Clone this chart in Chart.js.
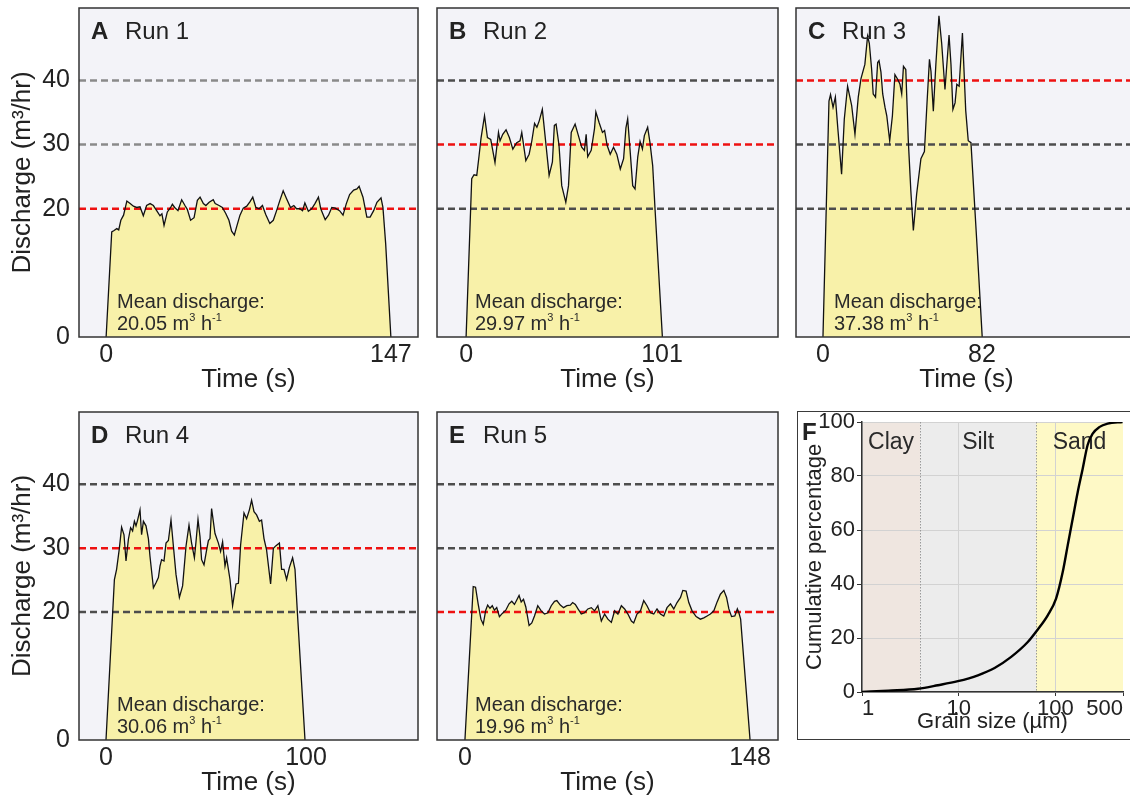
<!DOCTYPE html>
<html>
<head>
<meta charset="utf-8">
<script src="https://cdn.jsdelivr.net/npm/chart.js@4.4.1/dist/chart.umd.min.js"></script>
<style>
html,body{margin:0;padding:0;background:#fff;}
body{width:1130px;height:800px;overflow:hidden;position:relative;}
canvas{position:absolute;}
#boxF{position:absolute;left:797px;top:411px;width:345px;height:329px;border:1.5px solid #3a3a3a;box-sizing:border-box;}
</style>
</head>
<body>
<div id="boxF"></div>
<canvas id="cA" width="425" height="400" style="left:0;top:0"></canvas>
<canvas id="cB" width="355" height="400" style="left:430px;top:0"></canvas>
<canvas id="cC" width="355" height="400" style="left:790px;top:0"></canvas>
<canvas id="cD" width="425" height="400" style="left:0;top:400px"></canvas>
<canvas id="cE" width="355" height="400" style="left:430px;top:400px"></canvas>
<canvas id="cF" width="355" height="400" style="left:790px;top:400px"></canvas>
<script>
/* ===== data ===== */
const levels = [20, 30, 40];          // dashed reference discharges
const yTicks = [0, 20, 30, 40];
const letters = ['A','B','C','D','E'];
const runNames = ['Run 1','Run 2','Run 3','Run 4','Run 5'];
const runLength = [147, 101, 82, 100, 148];
const targetQ = [20, 30, 40, 30, 20];
const meanQ = ['20.05','29.97','37.38','30.06','19.96'];

// [time s, discharge m3/hr]
const run1 = [[0,0],[2.9,16.4],[4.1,16.6],[5.5,16.9],[6.5,16.7],[7.6,18.2],[9,19],[10.7,21.2],[12.4,20.8],[14.1,20.4],[15.8,20.2],[17.5,20.3],[19.2,18.9],[20.9,20.5],[22.7,20.8],[24.4,20.5],[26.1,19.7],[27.8,18.9],[28.8,19.2],[29.9,17.4],[31.6,19.5],[33.3,20.2],[34.2,20.7],[35.4,20.2],[37.1,19.7],[39,21.4],[40.7,20.5],[41.9,19.9],[43.6,18.2],[45.4,18.6],[47.1,21.3],[48.5,21.8],[50.2,20.8],[51.5,20.5],[53.2,21],[55.3,21.4],[56.3,20.8],[58.3,20.5],[60,20.2],[61.7,19.3],[63.4,18.2],[64.8,16.5],[66.2,15.9],[67.4,17.2],[69.1,19],[70.8,20.1],[72.6,20.4],[74.3,21.1],[75.7,21.8],[77.3,20.2],[79,20],[80.7,20.5],[82.4,19.1],[84.5,17.7],[86.3,18.2],[88,19.7],[89.7,21.3],[91.4,22.8],[93.1,21.6],[95.2,20.2],[96.9,20.5],[98.3,20],[100,20],[101.4,19.7],[102.6,20.9],[104.4,19.6],[106.1,20],[107.8,20.8],[109.6,21.8],[110.8,20],[113.1,18.3],[114.8,19],[116.5,20.2],[118.3,20.1],[120.5,19.7],[122.3,19],[124,20.8],[125.7,22.2],[127.8,22.9],[129.5,23.1],[130.6,23.5],[132.6,21.8],[134.6,18.7],[136.3,18.7],[138.1,19.7],[139.8,21],[141.9,21.7],[142.9,20.2],[144.3,14.6],[147,0]];
const run2 = [[0,0],[2.9,24.7],[4.1,25.3],[5.5,25.2],[6.7,28.3],[7.7,31],[9.5,34.5],[11,31.1],[12.7,30.8],[14.9,27.2],[16.7,31.9],[17.5,30.6],[18.9,31.6],[20.6,32.3],[22.3,31.1],[24.1,29.3],[26.1,30.3],[27.8,30.6],[28.7,31.9],[30.8,27.5],[32.5,28.5],[33.9,30.6],[35.3,33.3],[36.5,32.7],[37.7,33.7],[39.3,35.5],[40.7,31.4],[42.1,27.3],[42.8,25.2],[44.5,27.3],[45.5,33],[46.4,33.2],[47.9,29.9],[49.3,23.6],[51.4,21],[52.8,23.6],[54.2,31.9],[56.2,33.2],[57.9,31.4],[59.6,29.6],[61,29.1],[61.9,31.6],[62.7,28.1],[64.5,29.1],[66.2,32.5],[66.9,35.1],[68.6,33.4],[70.3,31.9],[71.4,32.2],[72.7,29.9],[74.3,28.5],[76,29.6],[77.7,28.5],[79.5,26.2],[81.2,27.8],[82.4,32.6],[83.3,34],[84.5,29.3],[85.9,23.6],[87.1,23.1],[88.5,28.1],[89.7,30.5],[90.9,29.3],[91.9,31.4],[93.6,32.7],[94.8,30.3],[96.2,26.7],[97.4,20],[101.2,0]];
const run3 = [[0,0],[3.1,36.8],[3.9,37.8],[5.2,35.8],[6.4,37.4],[7.7,32.4],[9.6,25.4],[11,34],[12.7,39.1],[14.8,36.1],[16.5,31.6],[18.2,37.4],[19.6,40.3],[21.6,42.5],[23,46.9],[23.9,45.8],[25.1,41.7],[25.9,37.9],[27.1,37.4],[28.2,42.8],[28.9,43.1],[29.9,41.3],[30.8,37.9],[32,35.8],[32.9,34.5],[34.4,30.6],[35.8,34.5],[37.1,40.9],[38.5,40.2],[39.7,39.4],[40.6,37.9],[41.5,42.2],[42.7,41.7],[44,30.6],[45.3,22.8],[46.6,16.6],[48.3,22.3],[50.5,27.8],[52.3,28.9],[53.5,35.7],[54.9,43.3],[55.7,41.4],[56.9,35.2],[58.2,42.5],[59.8,50.1],[61.2,45.8],[62.9,38.6],[65,47.1],[66,42.5],[67,35.5],[68.1,36.5],[69,39.4],[70.2,39.1],[71.9,47.4],[73.6,35.3],[74.9,30.6],[76.3,30.3],[79.2,15.4],[82.1,0]];
const run4 = [[0,0],[4.2,25.1],[5.3,26.7],[6.7,30],[7.8,33.3],[9,32.1],[10,28],[11.2,31.4],[12.3,33.2],[13.3,32.7],[14.2,34.2],[15,33.5],[15.8,34.4],[17,36],[17.8,32.1],[18.7,34.2],[20,33.5],[21.2,31.5],[22,28.7],[23.7,23.8],[25,24.6],[26.2,25.4],[27,27.2],[27.8,28.2],[29,28],[30,30.8],[31.2,31.2],[32.5,34.4],[33.7,30.3],[35,25.9],[36.7,22.3],[38.3,24.1],[40,30.3],[41.5,33.6],[42.8,30.8],[44.2,28.5],[45,31],[46,34.5],[47,31.8],[47.8,28.2],[49,27.4],[50.3,29.7],[51.2,31.2],[52,31.5],[52.8,36.2],[54.5,32.3],[56.2,30.8],[57.3,29.5],[58.3,31],[59.5,27.2],[60.3,28.5],[62,25.1],[63.3,21],[65,24.4],[66.2,24.5],[67.3,30.5],[69,35.5],[70.3,34.6],[71.7,36],[72.8,37.5],[74,35.7],[75.3,35.2],[76.7,34.2],[77.8,34.4],[79,31.5],[80.3,29.7],[82.3,24.4],[83.7,30],[85,30.4],[86.7,30.8],[87.8,26.7],[89,26.7],[90.3,25.1],[91.7,27],[93.3,28.5],[94.5,26.7],[95.7,19.9],[99.5,0]];
const run5 = [[0,0],[4.3,24],[5.5,23.9],[6.9,21.2],[8.3,18.9],[9.5,18.1],[10.8,20.3],[11.8,21.1],[13,20.6],[14.2,21],[15.3,20.3],[16.5,20.7],[17.9,19.3],[19.4,19.8],[21.2,20.3],[22.9,21.3],[24.3,21.7],[25.7,21.2],[26.9,21.9],[28.1,22.6],[29.2,21.6],[30.4,22],[31.6,20.8],[33.3,17.9],[34.7,18.3],[36.1,19.4],[37.8,21],[39.6,20.2],[41.3,19.7],[43.1,19.9],[44.8,21],[46.5,21.7],[47.7,21.8],[49.5,21.1],[51.2,20.7],[52.9,21],[54.7,21.1],[55.9,21.5],[57.3,21.2],[58.7,20.5],[60.4,19.7],[62.1,19.9],[63.8,20.5],[65.6,20.7],[67.3,20.2],[69,21],[70.8,18.6],[72.5,19.7],[74.2,18.9],[76,18.4],[77.7,20.2],[79.4,19.7],[81.2,21],[82.9,20.5],[84.6,19.7],[86.4,18.6],[87.6,18.3],[89.3,19.7],[91.1,20.2],[92.8,21.8],[94.5,21],[96.3,19.9],[98,19.7],[99.7,20.5],[101.5,19.7],[103.2,19.4],[104.9,20.7],[106.7,21.3],[108.4,20.5],[110.1,21.5],[111.9,22.3],[113.1,23.4],[114.8,23.3],[116.2,21.5],[117.9,20.2],[120,19.3],[122.2,18.9],[124,19.1],[125.7,19.4],[127.4,19.7],[129.2,20.2],[130.9,21.6],[132.6,22.8],[134.4,23.4],[135.8,22.3],[137,20.5],[138.4,19.3],[140.1,19.4],[141.4,20.5],[142.2,19.9],[143.1,18.9],[148,0]];

// panel F: grain size distribution
const grainCurve = [[1,0],[1.87,0.5],[3.8,1.2],[6.1,2.5],[9.8,4],[15.8,6.2],[23.5,8.9],[34.9,13],[51.8,18.5],[64.6,22.8],[83.3,28.4],[101.6,34.6],[119,44.4],[134,54.3],[151,64.2],[170,74],[191.5,82.7],[215,91.4],[243,95.7],[284,98.1],[347,99.4],[494,100]];
const grainTicks = [1, 10, 100, 500];
const pctTicks = [0, 20, 40, 60, 80, 100];
const classEdges = [1, 4, 63, 500];
const classNames = ['Clay', 'Silt', 'Sand'];
const classColors = ['#efe6e0', '#ececec', '#fef9c6'];

/* ===== style ===== */
const FONT = '"Liberation Sans", Arial, sans-serif';
const RED = '#ee1111', FILL = '#f8f1a9', BG = '#f3f3f8', INK = '#222';

const panels = [
  {id:'cA', data:run1, xr:[-14,161],   yw:79, top:8,  right:7, xh:63, tpad:4.4, grey:'#8a8a8a'},
  {id:'cB', data:run2, xr:[-15,160.8], yw:7,  top:8,  right:7, xh:63, tpad:4.4, grey:'#4d4d4d'},
  {id:'cC', data:run3, xr:[-13.9,161.9], yw:6, top:8, right:8, xh:63, tpad:4.4, grey:'#4d4d4d'},
  {id:'cD', data:run4, xr:[-13.5,156], yw:79, top:12, right:7, xh:60, tpad:1.4, grey:'#4d4d4d'},
  {id:'cE', data:run5, xr:[-14.5,162.5], yw:7, top:12, right:7, xh:60, tpad:1.4, grey:'#4d4d4d'}
];

// fixed axis boxes, no extra label overhang padding
const fixY = w => s => { s.width = w; s.paddingTop = 0; s.paddingBottom = 0; };
const fixX = h => s => { s.height = h; s.paddingLeft = 0; s.paddingRight = 0; };

function richText(ctx, parts, x, y, size){
  parts.forEach(([s, sup])=>{
    ctx.font = (sup ? Math.round(size*0.55) : size) + 'px ' + FONT;
    ctx.fillText(s, x, sup ? y - size*0.45 : y);
    x += ctx.measureText(s).width;
  });
}

const framePlugin = {
  id:'frame',
  beforeDraw(chart){
    const {ctx, chartArea:a} = chart;
    ctx.save(); ctx.fillStyle = BG;
    ctx.fillRect(a.left, a.top, a.right-a.left, a.bottom-a.top);
    ctx.restore();
  },
  afterDraw(chart, args, o){
    const {ctx, chartArea:a} = chart;
    ctx.save();
    ctx.fillStyle = INK; ctx.textAlign = 'left'; ctx.textBaseline = 'alphabetic';
    ctx.font = 'bold 24px ' + FONT; ctx.fillText(o.letter, a.left+12, a.top+31);
    ctx.font = '24px ' + FONT; ctx.fillText(o.name, a.left+46, a.top+31);
    ctx.fillStyle = '#2a2a2a';
    ctx.font = '20px ' + FONT; ctx.fillText('Mean discharge:', a.left+38, a.bottom-29);
    richText(ctx, [[o.mean+' m',0],['3',1],[' h',0],['-1',1]], a.left+38, a.bottom-7, 20);
    ctx.strokeStyle = '#333'; ctx.lineWidth = 1.5;
    ctx.strokeRect(a.left, a.top, a.right-a.left, a.bottom-a.top);
    ctx.restore();
  }
};

panels.forEach((p, i)=>{
  const [xmin, xmax] = p.xr;
  const pts = p.data.map(([x,y])=>({x,y}));
  const showY = p.yw > 20;
  const ds = [{data:pts, borderColor:'#111', borderWidth:1.3, pointRadius:0, fill:false, tension:0}];
  levels.forEach(l=>ds.push({
    data:[{x:xmin,y:l},{x:xmax,y:l}], borderColor: l===targetQ[i] ? RED : p.grey,
    borderDash:[7,4], borderWidth:2.5, pointRadius:0, fill:false
  }));
  ds.push({data:pts, borderWidth:0, borderColor:'rgba(0,0,0,0)', backgroundColor:FILL, fill:'origin', pointRadius:0, tension:0});

  new Chart(document.getElementById(p.id), {
    type:'line',
    data:{datasets:ds},
    options:{
      responsive:false, animation:false, devicePixelRatio:1,
      layout:{padding:{top:p.top, right:p.right, left:0, bottom:0}},
      plugins:{legend:{display:false}, tooltip:{enabled:false},
        frame:{letter:letters[i], name:runNames[i], mean:meanQ[i]}},
      scales:{
        x:{type:'linear', min:xmin, max:xmax,
          afterBuildTicks:s=>{ s.ticks = [0, runLength[i]].map(v=>({value:v})); },
          afterFit:fixX(p.xh),
          grid:{display:false, drawTicks:false}, border:{display:false},
          ticks:{font:{family:FONT,size:25}, color:INK, padding:3, maxRotation:0, autoSkip:false, callback:v=>String(v)},
          title:{display:true, text:'Time (s)', color:INK, font:{family:FONT,size:26}, padding:{top:0,bottom:p.tpad}}},
        y:{min:0, max:51.3,
          afterBuildTicks:s=>{ s.ticks = yTicks.map(v=>({value:v})); },
          afterFit:fixY(p.yw),
          grid:{display:false, drawTicks:false}, border:{display:false},
          ticks:{display:showY, font:{family:FONT,size:25}, color:INK, padding:9, callback:v=>String(v)},
          title:{display:showY, text:'Discharge (m³/hr)', color:INK, font:{family:FONT,size:26}, padding:{top:7,bottom:0}}}
      }
    },
    plugins:[framePlugin]
  });
});

/* ===== panel F ===== */
const bandPlugin = {
  id:'bands',
  beforeDraw(chart){
    const {ctx, chartArea:a, scales:{x}} = chart;
    ctx.save();
    classNames.forEach((n, k)=>{
      const x0 = x.getPixelForValue(classEdges[k]), x1 = x.getPixelForValue(classEdges[k+1]);
      ctx.fillStyle = classColors[k];
      ctx.fillRect(x0, a.top, x1-x0, a.bottom-a.top);
    });
    ctx.restore();
  },
  beforeDatasetsDraw(chart){
    const {ctx, chartArea:a, scales:{x}} = chart;
    ctx.save();
    ctx.strokeStyle = '#9a9a9a'; ctx.lineWidth = 1; ctx.setLineDash([1.5,1.5]);
    classEdges.slice(1,-1).forEach(e=>{
      const px = Math.round(x.getPixelForValue(e)) + 0.5;
      ctx.beginPath(); ctx.moveTo(px, a.top); ctx.lineTo(px, a.bottom); ctx.stroke();
    });
    ctx.setLineDash([]);
    ctx.fillStyle = '#2a2a2a'; ctx.textAlign = 'center'; ctx.textBaseline = 'alphabetic';
    ctx.font = '23px ' + FONT;
    classNames.forEach((n, k)=>{
      const c = Math.sqrt(classEdges[k]*classEdges[k+1]);
      ctx.fillText(n, x.getPixelForValue(c), a.top+27);
    });
    ctx.textAlign = 'left'; ctx.fillStyle = INK;
    ctx.font = 'bold 24px ' + FONT;
    ctx.fillText('F', a.left-60, a.top+18);
    ctx.restore();
  }
};

new Chart(document.getElementById('cF'), {
  type:'line',
  data:{datasets:[{data:grainCurve.map(([x,y])=>({x,y})), borderColor:'#000', borderWidth:2.4,
    pointRadius:0, fill:false, cubicInterpolationMode:'monotone'}]},
  options:{
    responsive:false, animation:false, devicePixelRatio:1,
    layout:{padding:{top:22, right:22, left:0, bottom:60}},
    plugins:{legend:{display:false}, tooltip:{enabled:false}},
    scales:{
      x:{type:'logarithmic', min:1, max:500,
        afterBuildTicks:s=>{ s.ticks = grainTicks.map(v=>({value:v})); },
        afterFit:fixX(48),
        grid:{color:c=>c.tick && c.tick.value===500 ? 'rgba(0,0,0,0)' : '#d2d2d2', lineWidth:1, drawTicks:true, tickLength:4, tickColor:'#333'},
        border:{color:'#333', width:1.5},
        ticks:{align:'inner', font:{family:FONT,size:22}, color:INK, padding:0, maxRotation:0, autoSkip:false, callback:v=>String(v)},
        title:{display:true, text:'Grain size (µm)', color:INK, font:{family:FONT,size:22}, padding:{top:0,bottom:5}}},
      y:{min:0, max:100,
        afterBuildTicks:s=>{ s.ticks = pctTicks.map(v=>({value:v})); },
        afterFit:fixY(72),
        grid:{color:'#d2d2d2', lineWidth:1, drawTicks:true, tickLength:5, tickColor:'#333'},
        border:{color:'#333', width:1.5},
        ticks:{font:{family:FONT,size:22}, color:INK, padding:2, callback:v=>String(v)},
        title:{display:true, text:'Cumulative percentage', color:INK, font:{family:FONT,size:22}, padding:{top:12,bottom:0}}}
    }
  },
  plugins:[bandPlugin]
});
</script>
</body>
</html>
